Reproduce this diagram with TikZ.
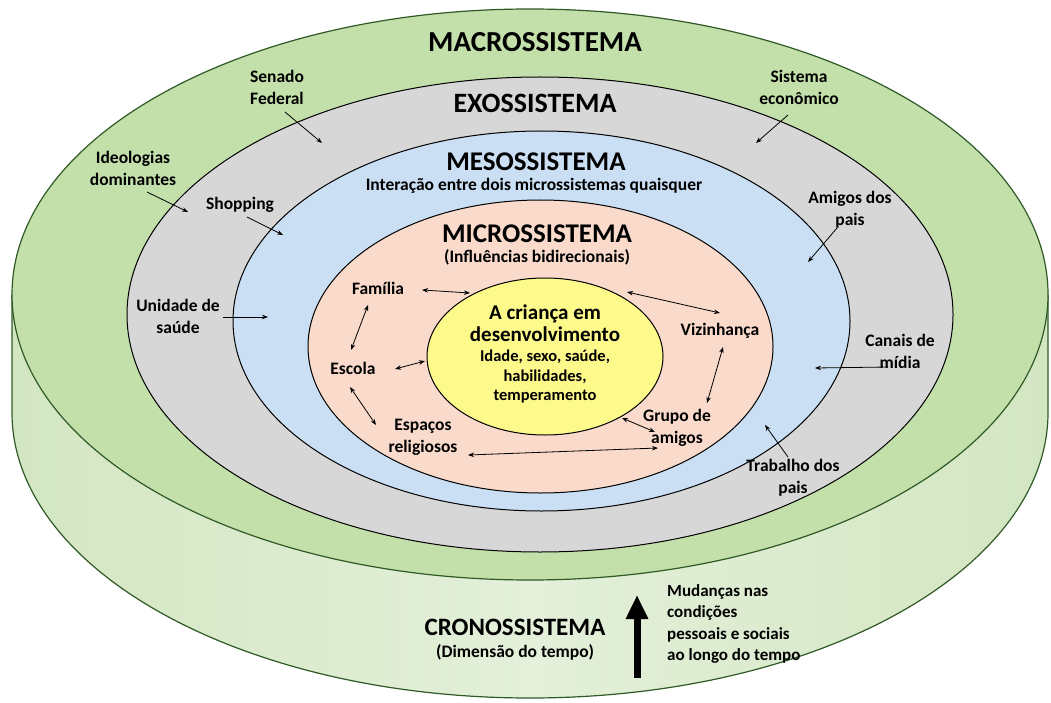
\documentclass[tikz,border=0pt]{standalone}
\usepackage{fontspec}
\setmainfont{Carlito}
\usetikzlibrary{arrows.meta}
\definecolor{macrocol}{HTML}{C3DFAA}
\definecolor{sideA}{HTML}{D3E6C2}
\definecolor{sideB}{HTML}{E4F0DA}
\definecolor{edgecol}{HTML}{2F5A26}
\definecolor{exocol}{HTML}{D7D7D7}
\definecolor{mesocol}{HTML}{CADFF4}
\definecolor{microcol}{HTML}{F9DACB}
\definecolor{childcol}{HTML}{FDF98A}
\begin{document}
\begin{tikzpicture}[x=1pt,y=-1pt,
 head/.style={font=\fontsize{28}{30}\selectfont\bfseries, inner sep=0pt},
 subtxt/.style={font=\fontsize{17.5}{20}\selectfont\bfseries, inner sep=0pt, align=center},
 lab/.style={font=\fontsize{17.5}{22}\selectfont\bfseries, inner sep=0pt, align=center},
 dbl/.style={{Stealth[length=6pt,width=4.5pt]}-{Stealth[length=6pt,width=4.5pt]}, line width=0.8pt},
 sgl/.style={-{Stealth[length=6pt,width=4.5pt]}, line width=0.8pt},
 ring/.style={draw=black, line width=1pt}]
\useasboundingbox (0,0) rectangle (1051,703);
% cylinder side
\shade[left color=sideA, right color=sideA, middle color=sideB] (12,294.5) -- (12,412.5) arc[start angle=180,end angle=360,x radius=518pt,y radius=285.5pt] -- (1048,294.5) -- cycle;
\draw[edgecol, line width=1.2pt] (12,294.5) -- (12,412.5) arc[start angle=180,end angle=360,x radius=518pt,y radius=285.5pt] -- (1048,294.5);
% rings
\draw[edgecol, fill=macrocol, line width=1.2pt] (530,294.5) ellipse[x radius=518pt, y radius=285.5pt];
\draw[ring, fill=exocol] (540,314.5) ellipse[x radius=413pt, y radius=237.5pt];
\draw[ring, fill=mesocol] (541.5,321) ellipse[x radius=308.5pt, y radius=190pt];
\draw[ring, fill=microcol] (540.5,346.5) ellipse[x radius=232.5pt, y radius=146.5pt];
\draw[ring, fill=childcol] (545,356.5) ellipse[x radius=118pt, y radius=78.5pt];
% headings
\node[head, font=\fontsize{29}{30}\selectfont\bfseries] (macro) at (535,42) {MACROSSISTEMA};
\node[head] (exo) at (535,103) {EXOSSISTEMA};
\node[head, font=\fontsize{27}{30}\selectfont\bfseries] (meso) at (536,162) {MESOSSISTEMA};
\node[subtxt] (mesosub) at (534,186) {Interação entre dois microssistemas quaisquer};
\node[head, font=\fontsize{27}{30}\selectfont\bfseries] (micro) at (537,234) {MICROSSISTEMA};
\node[subtxt] (microsub) at (537,257) {(Influências bidirecionais)};
\node[font=\fontsize{21}{22}\selectfont\bfseries, inner sep=0pt, align=center] (childt) at (545,323) {A criança em\\desenvolvimento};
\node[font=\fontsize{16.5}{19.5}\selectfont\bfseries, inner sep=0pt, align=center] (childs) at (545,377) {Idade, sexo, saúde,\\habilidades,\\temperamento};
% micro labels
\node[lab] (fam) at (378,288) {Família};
\node[lab] (esc) at (353,368) {Escola};
\node[lab] (esp) at (423,437) {Espaços\\religiosos};
\node[lab] (viz) at (720,331) {Vizinhança};
\node[lab] (gru) at (677,428) {Grupo de\\amigos};
% outer labels
\node[lab] (sen) at (277,87) {Senado\\Federal};
\node[lab] (ide) at (133,168) {Ideologias\\dominantes};
\node[lab] (sho) at (240,205) {Shopping};
\node[lab] (uni) at (178,316) {Unidade de\\saúde};
\node[lab] (sis) at (799,87) {Sistema\\econômico};
\node[lab] (ami) at (850,210) {Amigos dos\\pais};
\node[lab] (can) at (900,351) {Canais de\\mídia};
\node[lab] (tra) at (793,478) {Trabalho dos\\pais};
\node[head, font=\fontsize{25}{30}\selectfont\bfseries] (crono) at (515,627) {CRONOSSISTEMA};
\node[subtxt] (cronosub) at (515,652) {(Dimensão do tempo)};
\node[font=\fontsize{17}{21.5}\selectfont\bfseries, inner sep=0pt, align=left, anchor=north west] (mud) at (667,584) {Mudanças nas\\condições\\pessoais e sociais\\ao longo do tempo};
% arrow end points
\coordinate (a1s) at (422,290); \coordinate (a1e) at (470,293);
\coordinate (a2s) at (627,292); \coordinate (a2e) at (720,313);
\coordinate (a3s) at (368,305); \coordinate (a3e) at (351,350);
\coordinate (a4s) at (395,369); \coordinate (a4e) at (425,361);
\coordinate (a5s) at (350,387); \coordinate (a5e) at (376,425);
\coordinate (a6s) at (723,347); \coordinate (a6e) at (707,403);
\coordinate (a7s) at (622,418); \coordinate (a7e) at (655,432);
\coordinate (a8s) at (468,455); \coordinate (a8e) at (658,448);
\coordinate (b1s) at (285,112); \coordinate (b1e) at (322,143);
\coordinate (b2s) at (147,192); \coordinate (b2e) at (188,212);
\coordinate (b3s) at (247,217); \coordinate (b3e) at (283,235);
\coordinate (b4s) at (223,317); \coordinate (b4e) at (268,317);
\coordinate (b5s) at (788,115); \coordinate (b5e) at (756,143);
\coordinate (b6s) at (837,228); \coordinate (b6e) at (808,262);
\coordinate (b7s) at (888,367); \coordinate (b7e) at (815,368);
\coordinate (b8s) at (788,457); \coordinate (b8e) at (765,425);
\coordinate (bigS) at (637,678); \coordinate (bigE) at (637,595);
% arrows
\foreach \a in {a1,a2,a3,a4,a5,a6,a7,a8} \draw[dbl] (\a s) -- (\a e);
\foreach \a in {b1,b2,b3,b4,b5,b6,b7,b8} \draw[sgl] (\a s) -- (\a e);
\draw[line width=7pt, -{Triangle[length=24pt,width=21pt]}] (bigS) -- (bigE);
\end{tikzpicture}
\end{document}
